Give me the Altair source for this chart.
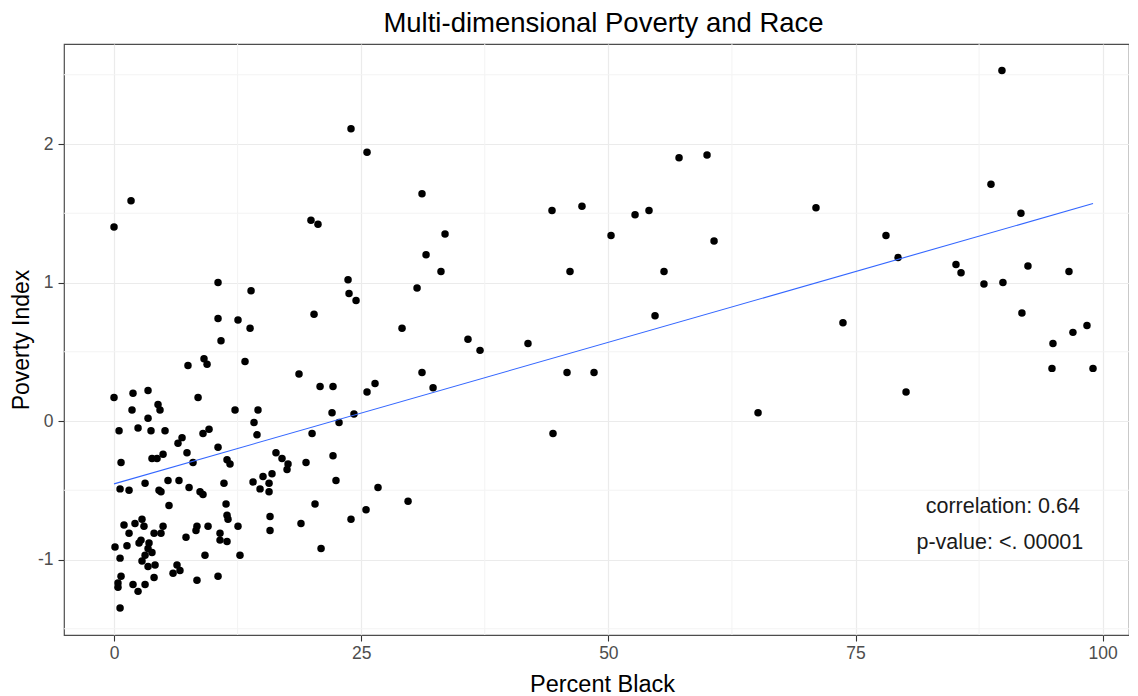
import altair as alt
import pandas as pd

# ---- data ----
pct_black = [
    0.0, 1.92, 3.44, 4.45, 4.65, 1.82, 3.44, 0.51, 2.43, 3.74,
    5.16, 6.88, 6.47, 7.38, 0.71, 3.84, 4.35, 4.96, 0.61, 1.52,
    3.14, 4.55, 4.75, 5.46, 6.57, 7.59, 7.99, 8.70, 9.00, 9.61,
    9.00, 10.52, 8.50, 7.48, 9.10, 9.41, 10.52, 10.52, 10.82, 12.54,
    13.76, 13.86, 13.25, 12.24, 14.56, 14.16, 14.46, 11.43, 11.73, 5.56,
    1.01, 2.12, 2.83, 3.03, 1.52, 4.96, 4.75, 4.05, 7.28, 0.10,
    1.31, 2.73, 2.53, 3.54, 3.84, 3.44, 0.61, 3.14, 2.83, 3.44,
    4.15, 6.37, 6.67, 5.97, 0.71, 0.40, 0.40, 1.92, 3.14, 4.05,
    2.43, 0.61, 11.33, 11.43, 11.53, 12.54, 8.39, 8.29, 9.51, 10.72,
    10.72, 11.43, 9.20, 12.74, 8.39, 10.52, 11.12, 14.06, 14.77, 15.07,
    15.68, 15.68, 15.98, 15.78, 15.78, 16.38, 16.99, 17.60, 17.50, 19.42,
    22.45, 22.15, 18.71, 20.84, 22.15, 22.05, 24.27, 22.76, 20.03, 26.40,
    25.59, 31.15, 32.27, 26.70, 20.33, 25.49, 29.74, 18.91, 23.97, 20.94,
    29.13, 35.80, 23.97, 25.59, 31.15, 19.92, 20.63, 33.48, 31.56, 33.07,
    23.67, 30.65, 23.77, 24.48, 20.23, 0.0, 1.72,
    37.02, 41.87, 44.30, 44.40, 45.82, 46.12, 47.33, 48.55, 50.27, 52.70,
    54.11, 54.72, 55.63, 57.15, 59.98, 60.69, 65.14, 71.00, 73.73, 78.08,
    79.30, 80.11, 85.16, 85.67, 87.99, 88.70, 89.81, 89.91, 91.73, 91.83,
    92.44, 94.87, 94.97, 96.59, 96.99, 98.41, 99.02,
]
poverty_index = [
    0.17, 0.20, 0.22, 0.12, 0.08, 0.08, 0.02, -0.07, -0.05, -0.07,
    -0.07, -0.12, -0.16, -0.23, -0.30, -0.27, -0.27, -0.24, -0.49, -0.50,
    -0.45, -0.50, -0.51, -0.43, -0.43, -0.48, -0.30, -0.51, -0.53, -0.06,
    -0.09, -0.19, 0.17, 0.40, 0.45, 0.41, 1.00, 0.74, 0.58, 0.73,
    0.67, 0.94, 0.43, 0.08, 0.08, -0.01, -0.10, -0.28, -0.31, -0.61,
    -0.75, -0.74, -0.71, -0.76, -0.81, -0.76, -0.81, -0.81, -0.84, -0.91,
    -0.90, -0.86, -0.88, -0.88, -0.95, -0.92, -0.99, -0.97, -1.01, -1.05,
    -1.04, -1.04, -1.08, -1.10, -1.12, -1.20, -1.17, -1.18, -1.18, -1.13,
    -1.23, -1.35, -0.60, -0.68, -0.71, -0.76, -0.76, -0.79, -0.76, -0.81,
    -0.86, -0.87, -0.97, -0.97, -1.15, -1.12, -0.45, -0.44, -0.49, -0.40,
    -0.45, -0.51, -0.38, -0.69, -0.79, -0.23, -0.27, -0.31, -0.35, -0.30,
    -0.43, -0.25, 0.34, 0.25, 0.25, 0.06, 0.05, -0.01, -0.09, 0.27,
    0.21, 0.35, 0.24, -0.48, -0.60, -0.64, -0.58, -0.74, -0.71, -0.92,
    0.67, 0.59, 2.11, 1.94, 1.64, 1.45, 1.42, 1.35, 1.20, 1.08,
    1.02, 0.96, 0.92, 0.87, 0.77, 1.40, 1.59,
    0.51, 0.56, 1.52, -0.09, 0.35, 1.08, 1.55, 0.35, 1.34, 1.49,
    1.52, 0.76, 1.08, 1.90, 1.92, 1.30, 0.06, 1.54, 0.71, 1.34,
    1.18, 0.21, 1.13, 1.07, 0.99, 1.71, 2.53, 1.00, 1.50, 0.78,
    1.12, 0.38, 0.56, 1.08, 0.64, 0.69, 0.38,
]

x_ticks = [0, 25, 50, 75, 100]
y_ticks = [-1, 0, 1, 2]
x_minor = [12.5, 37.5, 62.5, 87.5]
y_minor = [-1.5, -0.5, 0.5, 1.5, 2.5]

title_text = "Multi-dimensional Poverty and Race"
note_corr = "correlation: 0.64"
note_p = "p-value: <. 00001"

FONT = "Liberation Sans"

df = pd.DataFrame({"pct": pct_black, "index": poverty_index})

xscale = alt.Scale(domain=[-5.06, 102.66], nice=False, zero=False)
yscale = alt.Scale(domain=[-1.545, 2.722], nice=False, zero=False)

xaxis = alt.Axis(
    values=x_ticks, labelExpr="toString(datum.value)", title="Percent Black",
    grid=True, gridColor="#ebebeb", gridWidth=1.2, domain=False,
    tickColor="#333333", tickSize=6, tickWidth=1.1,
    labelPadding=3, labelFontSize=17.5, labelColor="#4d4d4d", labelFont=FONT,
    titleFont=FONT, titleFontSize=23.5, titleFontWeight="normal",
    titleColor="#000000", titlePadding=11, titleX=538,
)
yaxis = alt.Axis(
    values=y_ticks, labelExpr="toString(datum.value)", title="Poverty Index",
    grid=True, gridColor="#ebebeb", gridWidth=1.2, domain=False,
    tickColor="#333333", tickSize=6, tickWidth=1.1,
    labelPadding=5, labelFontSize=17.5, labelColor="#4d4d4d", labelFont=FONT,
    titleFont=FONT, titleFontSize=23, titleFontWeight="normal",
    titleColor="#000000", titlePadding=4,
)

minor_x = alt.Chart(pd.DataFrame({"pct": x_minor})).mark_rule(
    color="#f3f3f3", strokeWidth=1
).encode(x=alt.X("pct:Q", scale=xscale, axis=xaxis))

minor_y = alt.Chart(pd.DataFrame({"index": y_minor})).mark_rule(
    color="#f3f3f3", strokeWidth=1
).encode(y=alt.Y("index:Q", scale=yscale, axis=yaxis))

base = alt.Chart(df)

points = base.mark_circle(size=56, color="#000000", opacity=1).encode(
    x=alt.X("pct:Q", scale=xscale, axis=xaxis),
    y=alt.Y("index:Q", scale=yscale, axis=yaxis),
)

fit = base.transform_regression("pct", "index").mark_line(
    color="#3366FF", strokeWidth=1.1
).encode(
    x=alt.X("pct:Q", scale=xscale, axis=xaxis),
    y=alt.Y("index:Q", scale=yscale, axis=yaxis),
)

corr = alt.Chart().mark_text(
    font=FONT, fontSize=21.5, color="#1a1a1a", align="center", baseline="middle"
).encode(x=alt.datum(89.9), y=alt.datum(-0.62), text=alt.value(note_corr))

pval = alt.Chart().mark_text(
    font=FONT, fontSize=21.5, color="#1a1a1a", align="center", baseline="middle"
).encode(x=alt.datum(89.6), y=alt.datum(-0.88), text=alt.value(note_p))

chart = alt.layer(minor_x, minor_y, points, fit, corr, pval).properties(
    width=1065, height=591,
    autosize=alt.AutoSizeParams(type="none"),
    padding={"left": 56, "top": 36, "right": 0, "bottom": 64},
    title=alt.TitleParams(
        title_text, font=FONT, fontSize=27.5, fontWeight="normal",
        color="#000000", anchor="middle", baseline="top",
        offset=6, dx=7,
    ),
    background="white",
).configure_view(
    stroke="#4d4d4d", strokeWidth=1.2
)

chart.save("out.html", embed_options={"renderer": "svg", "actions": False})
